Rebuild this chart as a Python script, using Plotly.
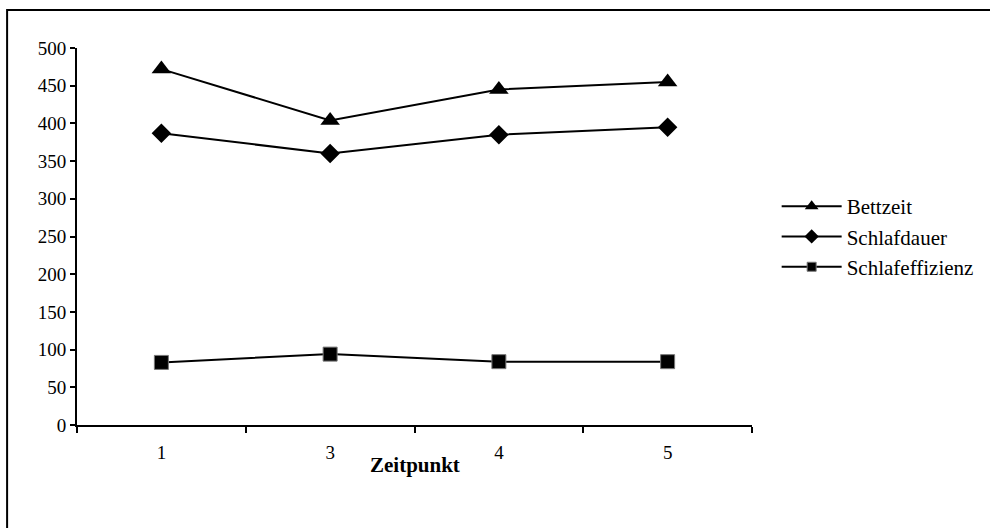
import plotly.graph_objects as go

zeitpunkt = ["1", "3", "4", "5"]
bettzeit = [472, 404, 445, 455]
schlafdauer = [387, 360, 385, 395]
schlafeffizienz = [83, 94, 84, 84]

series = [
    ("Bettzeit", bettzeit, dict(symbol="triangle-up", size=17, color="black"), 12),
    ("Schlafdauer", schlafdauer, dict(symbol="diamond", size=15, color="black"), 11),
    ("Schlafeffizienz", schlafeffizienz,
     dict(symbol="square", size=14, color="black", line=dict(color="#777777", width=1)), 9),
]

FONT = "Liberation Serif"

fig = go.Figure()
for name, vals, mk, _ in series:
    fig.add_trace(go.Scatter(x=zeitpunkt, y=vals, name=name, mode="lines+markers",
                             line=dict(color="black", width=2), marker=mk,
                             showlegend=False))
# legend-only entries with smaller symbols, as in the reference
for name, vals, mk, lsize in series:
    lmk = dict(mk)
    lmk["size"] = lsize
    fig.add_trace(go.Scatter(x=[None], y=[None], name=name, mode="lines+markers",
                             line=dict(color="black", width=2), marker=lmk,
                             showlegend=True, hoverinfo="skip"))

fig.update_layout(
    width=990, height=528,
    margin=dict(l=77, r=237, t=48, b=103),
    paper_bgcolor="white", plot_bgcolor="white",
    font=dict(family=FONT, size=19, color="black"),
    showlegend=True,
    legend=dict(x=1.035, xanchor="left", y=0.5, yanchor="middle",
                font=dict(family=FONT, size=21, color="black"),
                itemwidth=60, tracegroupgap=0, bgcolor="rgba(0,0,0,0)"),
    xaxis=dict(type="category", tickson="boundaries", ticks="outside", ticklen=6,
               tickwidth=1.5, tickcolor="black", showline=True, linecolor="black",
               linewidth=2, showgrid=False, zeroline=False, ticklabelstandoff=9,
               range=[-0.5, 3.5]),
    yaxis=dict(range=[0, 500], tickvals=[0, 50, 100, 150, 200, 250, 300, 350, 400, 450, 500],
               ticks="outside", ticklen=5, tickwidth=1.5, tickcolor="black",
               showline=True, linecolor="black", linewidth=2, showgrid=False,
               zeroline=False),
    annotations=[dict(text="<b>Zeitpunkt</b>", xref="paper", yref="paper",
                      x=0.5, y=(425 - 465) / 377, xanchor="center", yanchor="middle",
                      showarrow=False, font=dict(family=FONT, size=21, color="black"))],
)

fig.add_shape(type="rect", xref="paper", yref="paper",
              x0=(7 - 77) / 676, x1=(1010 - 77) / 676,
              y0=(425 - 560) / 377, y1=(425 - 10) / 377,
              line=dict(color="black", width=2), fillcolor="rgba(0,0,0,0)", layer="below")

fig.write_html("out.html", config={"displayModeBar": False},
               post_script="document.body.style.margin='0';document.body.style.overflow='hidden';")
